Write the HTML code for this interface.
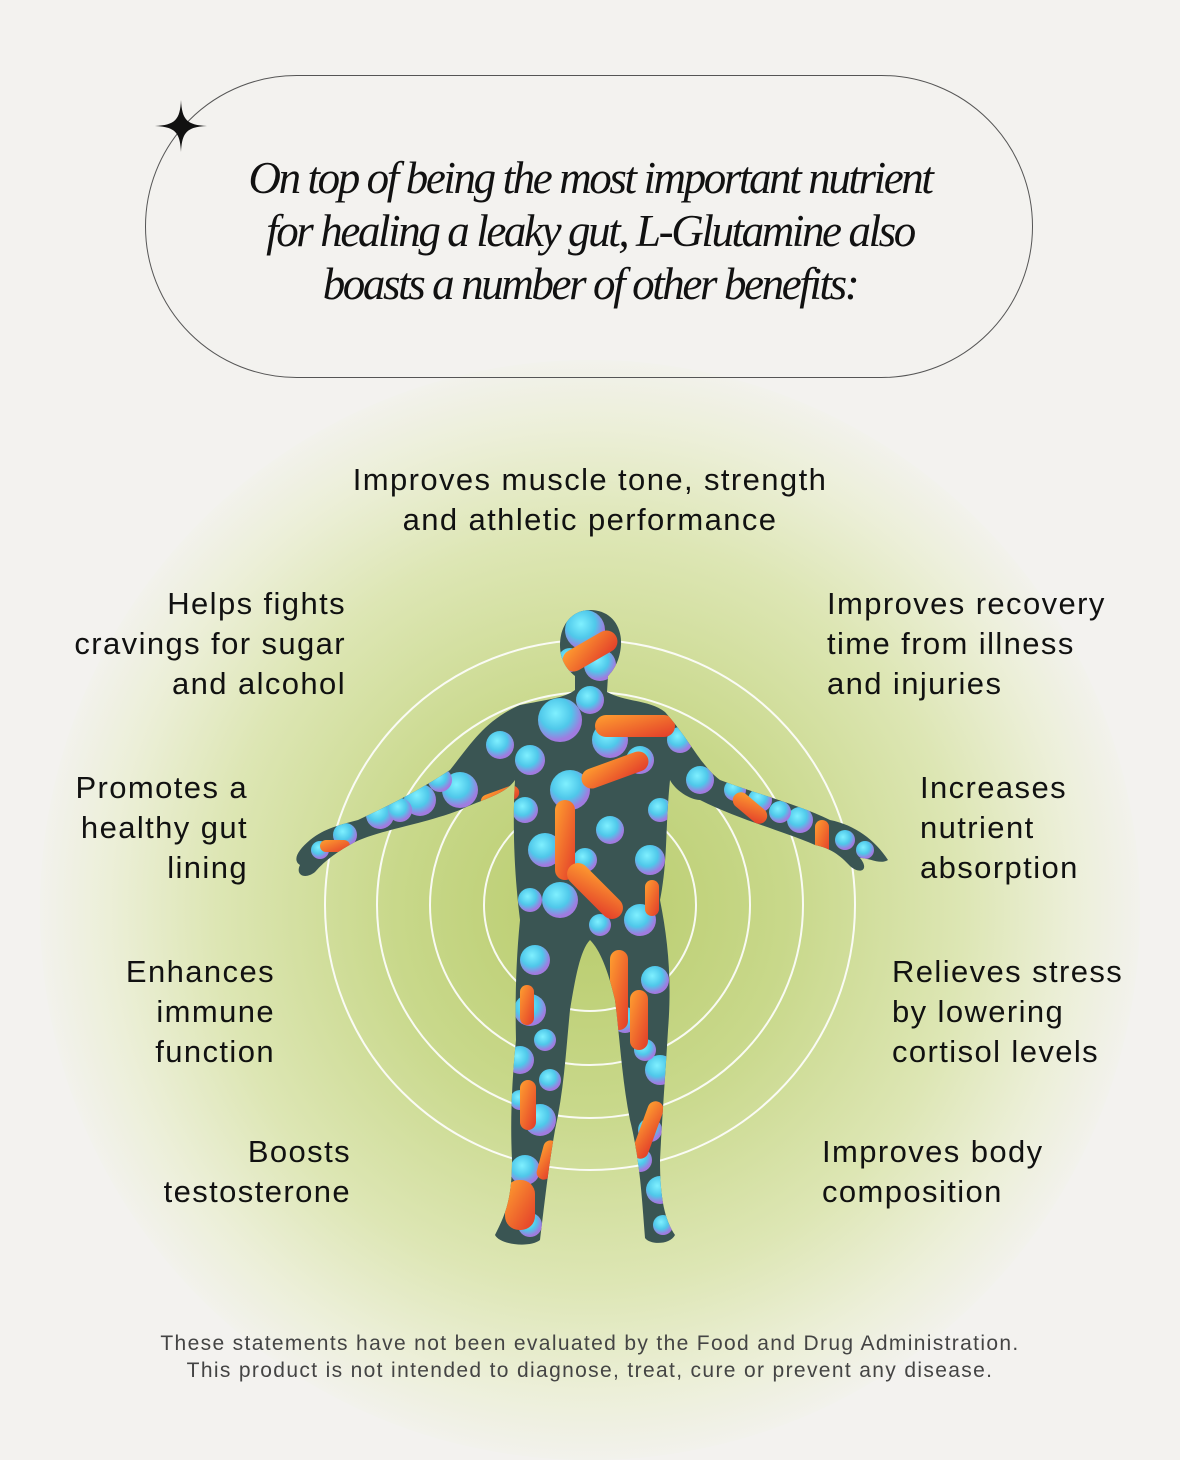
<!DOCTYPE html>
<html><head><meta charset="utf-8"><style>
body{margin:0;width:1180px;height:1450px;background:#f3f2ef;position:relative;overflow:hidden;font-family:"Liberation Sans",sans-serif;color:#111}
.glow{position:absolute;left:40px;top:360px;width:1100px;height:1100px;border-radius:50%;background:radial-gradient(circle at 50% 50%,#b9cc6d 0%,#c8d88a 25%,#dde6b4 48%,#ecefd8 62%,rgba(243,242,239,0) 72%)}
.pill{position:absolute;left:145px;top:75px;width:888px;height:303px;border:1.3px solid #555;border-radius:152px;box-sizing:border-box}
.title{position:absolute;left:90px;width:1000px;text-align:center;font-family:"Liberation Serif",serif;font-style:italic;font-size:45px;letter-spacing:-2.4px;color:#111;line-height:53px;top:152px}
.lab{position:absolute;font-size:31px;line-height:40px;color:#111;letter-spacing:1.4px}
.r{text-align:right}
.foot{position:absolute;left:0;width:1180px;text-align:center;top:1330px;font-size:21px;line-height:27px;color:#444;letter-spacing:1.35px}
</style></head><body>
<div class="glow"></div>
<div class="pill"></div>
<svg style="position:absolute;left:155px;top:100px" width="52" height="52" viewBox="0 0 52 52"><path d="M26 0 C27 20 32 25 52 26 C32 27 27 32 26 52 C25 32 20 27 0 26 C20 25 25 20 26 0Z" fill="#111"/></svg>
<div class="title">On top of being the most important nutrient<br>for healing a leaky gut, L-Glutamine also<br>boasts a number of other benefits:</div>

<svg style="position:absolute;left:0;top:0" width="1180" height="1450">
<defs>
<clipPath id="body"><path d="M590 610 C610 610 622 625 621 645 C620 660 614 670 608 676 L607 692 C625 702 650 700 665 712 C690 740 700 765 720 780 C760 795 800 805 830 820 C855 825 875 840 888 860 C880 865 870 858 860 858 C870 870 860 875 850 866 C840 855 830 848 815 845 C780 830 740 820 700 800 C690 800 675 790 670 780 C665 830 668 860 660 900 C668 940 672 980 668 1030 C665 1080 662 1120 660 1160 C660 1200 665 1220 675 1235 C670 1245 650 1245 645 1238 C642 1200 640 1160 630 1120 C622 1080 620 1040 615 1000 C608 970 600 950 590 940 C580 950 575 980 570 1010 C566 1050 564 1090 555 1130 C548 1170 545 1200 540 1240 C530 1248 500 1245 495 1235 C505 1215 512 1200 512 1160 C510 1120 512 1080 516 1040 C515 1000 516 960 520 920 C515 880 512 830 515 780 C505 795 480 800 460 810 C420 825 380 830 355 842 C340 850 325 860 315 872 C305 880 295 875 300 865 C292 860 298 850 310 840 C325 828 340 825 358 820 C390 805 420 790 450 770 C470 745 485 720 520 705 C545 700 565 698 575 690 L575 676 C565 668 560 658 560 645 C560 625 572 610 590 610Z"/></clipPath>
<radialGradient id="cb" cx="40%" cy="35%" r="60%"><stop offset="0" stop-color="#7ff0ff"/><stop offset=".6" stop-color="#4fc8ea"/><stop offset="1" stop-color="#a07be0"/></radialGradient>
<linearGradient id="ro" x1="0" y1="0" x2="1" y2="1"><stop offset="0" stop-color="#ffa030"/><stop offset="1" stop-color="#e23b2a"/></linearGradient>
</defs>
<g fill="none" stroke="#fff" stroke-width="2" opacity=".9">
<circle cx="590" cy="905" r="106"/><circle cx="590" cy="905" r="160"/><circle cx="590" cy="905" r="213"/><circle cx="590" cy="905" r="265"/>
</g>
<g clip-path="url(#body)">
<rect x="280" y="600" width="620" height="660" fill="#3a5553"/>
<g fill="url(#cb)">
<circle cx="585" cy="630" r="20"/><circle cx="600" cy="665" r="16"/><circle cx="560" cy="720" r="22"/><circle cx="610" cy="740" r="18"/>
<circle cx="530" cy="760" r="15"/><circle cx="570" cy="790" r="20"/><circle cx="640" cy="760" r="14"/><circle cx="460" cy="790" r="18"/>
<circle cx="420" cy="800" r="16"/><circle cx="380" cy="815" r="14"/><circle cx="345" cy="835" r="12"/><circle cx="700" cy="780" r="14"/>
<circle cx="760" cy="800" r="12"/><circle cx="800" cy="820" r="13"/><circle cx="845" cy="840" r="10"/><circle cx="545" cy="850" r="17"/>
<circle cx="610" cy="830" r="14"/><circle cx="650" cy="860" r="15"/><circle cx="560" cy="900" r="18"/><circle cx="640" cy="920" r="16"/>
<circle cx="535" cy="960" r="15"/><circle cx="655" cy="980" r="14"/><circle cx="530" cy="1010" r="16"/><circle cx="625" cy="1020" r="13"/>
<circle cx="520" cy="1060" r="14"/><circle cx="660" cy="1070" r="15"/><circle cx="540" cy="1120" r="16"/><circle cx="650" cy="1130" r="12"/>
<circle cx="525" cy="1170" r="15"/><circle cx="660" cy="1190" r="14"/><circle cx="530" cy="1225" r="12"/><circle cx="590" cy="700" r="14"/>
<circle cx="500" cy="745" r="14"/><circle cx="440" cy="780" r="12"/><circle cx="400" cy="810" r="12"/><circle cx="680" cy="740" r="13"/>
<circle cx="735" cy="790" r="11"/><circle cx="780" cy="812" r="11"/><circle cx="525" cy="810" r="13"/><circle cx="585" cy="860" r="12"/>
<circle cx="660" cy="810" r="12"/><circle cx="530" cy="900" r="12"/><circle cx="600" cy="925" r="11"/><circle cx="545" cy="1040" r="11"/>
<circle cx="645" cy="1050" r="11"/><circle cx="550" cy="1080" r="11"/><circle cx="640" cy="1160" r="12"/><circle cx="520" cy="1100" r="10"/>
<circle cx="663" cy="1225" r="10"/><circle cx="570" cy="660" r="12"/><circle cx="320" cy="850" r="9"/><circle cx="865" cy="850" r="9"/>
</g>
<g fill="url(#ro)">
<rect x="560" y="640" width="60" height="22" rx="11" transform="rotate(-30 590 651)"/>
<rect x="595" y="715" width="80" height="22" rx="11"/>
<rect x="580" y="760" width="70" height="20" rx="10" transform="rotate(-20 615 770)"/>
<rect x="555" y="800" width="20" height="80" rx="10"/>
<rect x="560" y="880" width="70" height="22" rx="11" transform="rotate(45 595 891)"/>
<rect x="610" y="950" width="18" height="80" rx="9"/>
<rect x="630" y="990" width="18" height="60" rx="9"/>
<rect x="520" y="1080" width="16" height="50" rx="8"/>
<rect x="505" y="1180" width="30" height="50" rx="14"/>
<rect x="640" y="1100" width="16" height="60" rx="8" transform="rotate(20 648 1130)"/>
<rect x="730" y="800" width="40" height="16" rx="8" transform="rotate(40 750 808)"/>
<rect x="320" y="840" width="30" height="12" rx="6"/>
<rect x="815" y="820" width="14" height="36" rx="7"/>
<rect x="480" y="790" width="40" height="14" rx="7" transform="rotate(-20 500 797)"/>
<rect x="520" y="985" width="14" height="40" rx="7"/>
<rect x="645" y="880" width="14" height="36" rx="7"/>
<rect x="540" y="1140" width="14" height="40" rx="7" transform="rotate(15 547 1160)"/>
</g>
</g>
</svg>

<div class="lab" style="left:0;width:1180px;text-align:center;top:460px">Improves muscle tone, strength<br>and athletic performance</div>
<div class="lab r" style="right:834px;top:584px">Helps fights<br>cravings for sugar<br>and alcohol</div>
<div class="lab r" style="right:932px;top:768px">Promotes a<br>healthy gut<br>lining</div>
<div class="lab r" style="right:905px;top:952px">Enhances<br>immune<br>function</div>
<div class="lab r" style="right:829px;top:1132px">Boosts<br>testosterone</div>
<div class="lab" style="left:827px;top:584px">Improves recovery<br>time from illness<br>and injuries</div>
<div class="lab" style="left:920px;top:768px">Increases<br>nutrient<br>absorption</div>
<div class="lab" style="left:892px;top:952px">Relieves stress<br>by lowering<br>cortisol levels</div>
<div class="lab" style="left:822px;top:1132px">Improves body<br>composition</div>
<div class="foot">These statements have not been evaluated by the Food and Drug Administration.<br>This product is not intended to diagnose, treat, cure or prevent any disease.</div>
</body></html>
